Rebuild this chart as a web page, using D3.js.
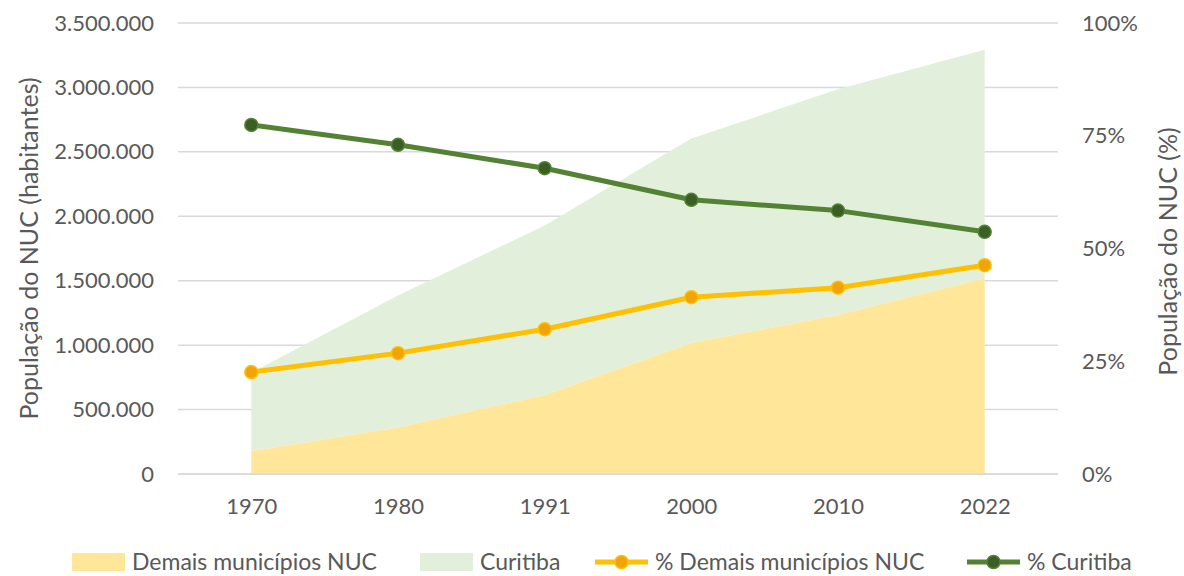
<!DOCTYPE html>
<html>
<head>
<meta charset="utf-8">
<script src="https://cdn.jsdelivr.net/npm/d3@7"></script>
<style>
  body { margin: 0; background: #fff; }
  text { font-family: Lato, "Open Sans", sans-serif; fill: #595959; }
</style>
</head>
<body>
<svg id="chart"></svg>
<script>
// data
var years = ["1970", "1980", "1991", "2000", "2010", "2022"]
var demais = [178000, 360000, 613000, 1017000, 1234000, 1520000]
var curitiba = [609000, 1025000, 1315000, 1587000, 1751000, 1773000]
var pctDemais = [0.226, 0.268, 0.321, 0.392, 0.413, 0.463]
var pctCuritiba = [0.774, 0.730, 0.678, 0.608, 0.584, 0.537]
var leftTicks = [0, 500000, 1000000, 1500000, 2000000, 2500000, 3000000, 3500000]
var rightTicks = [0, 0.25, 0.5, 0.75, 1]

var W = 1184, H = 576
var margin = {top: 23, right: 126, bottom: 102, left: 178}
var width = W - margin.left - margin.right
var height = H - margin.top - margin.bottom

var svg = d3.select("#chart")
    .attr("width", W)
    .attr("height", H)

var g = svg.append("g")
    .attr("transform", "translate(" + margin.left + "," + margin.top + ")")

var x = d3.scalePoint()
    .domain(years)
    .range([0, width])
    .padding(0.5)

var y = d3.scaleLinear()
    .domain([0, 3500000])
    .range([height, 0])

var y2 = d3.scaleLinear()
    .domain([0, 1])
    .range([height, 0])

var fmt = function (v) {
    return d3.format(",")(v).replace(/,/g, ".")
}

// gridlines
g.append("g")
    .selectAll("line")
    .data(leftTicks)
    .enter()
    .append("line")
    .attr("x1", 0)
    .attr("x2", width)
    .attr("y1", d => y(d))
    .attr("y2", d => y(d))
    .attr("stroke", "#d9d9d9")
    .attr("stroke-width", 1.5)

// stacked areas
var rows = years.map((yr, i) => ({year: yr, demais: demais[i], curitiba: curitiba[i]}))
var stack = d3.stack().keys(["demais", "curitiba"])
var series = stack(rows)
var areaColors = {demais: "#ffe699", curitiba: "#e2efda"}

var area = d3.area()
    .x(d => x(d.data.year))
    .y0(d => y(d[0]))
    .y1(d => y(d[1]))

g.append("g")
    .selectAll("path")
    .data(series.slice().reverse())
    .enter()
    .append("path")
    .attr("d", area)
    .attr("fill", d => areaColors[d.key])

// bottom axis line
g.append("line")
    .attr("x1", 0)
    .attr("x2", width)
    .attr("y1", height)
    .attr("y2", height)
    .attr("stroke", "#d9d9d9")
    .attr("stroke-width", 1.5)

// left axis
var yAxis = g.append("g")
    .call(d3.axisLeft(y).tickValues(leftTicks).tickFormat(fmt).tickSize(0).tickPadding(24))
yAxis.select(".domain").remove()
yAxis.selectAll("text")
    .attr("font-size", 22)
    .attr("fill", "#595959")
    .style("font-family", "Lato, sans-serif")

// right axis
var y2Axis = g.append("g")
    .attr("transform", "translate(" + width + ",0)")
    .call(d3.axisRight(y2).tickValues(rightTicks).tickFormat(d3.format(".0%")).tickSize(0).tickPadding(24))
y2Axis.select(".domain").remove()
y2Axis.selectAll("text")
    .attr("font-size", 22)
    .attr("fill", "#595959")
    .style("font-family", "Lato, sans-serif")

// x axis
var xAxis = g.append("g")
    .attr("transform", "translate(0," + height + ")")
    .call(d3.axisBottom(x).tickSize(0).tickPadding(24))
xAxis.select(".domain").remove()
xAxis.selectAll("text")
    .attr("font-size", 22)
    .attr("fill", "#595959")
    .style("font-family", "Lato, sans-serif")

// percentage lines
var lines = [
    {key: "pctDemais", values: pctDemais, stroke: "#ffc000", marker: "#f0a30a"},
    {key: "pctCuritiba", values: pctCuritiba, stroke: "#548235", marker: "#3a5e24"}
]

var line = d3.line()
    .x((d, i) => x(years[i]))
    .y(d => y2(d))

lines.forEach(function (s) {
    g.append("path")
        .attr("d", line(s.values))
        .attr("fill", "none")
        .attr("stroke", s.stroke)
        .attr("stroke-width", 5)
        .attr("stroke-linejoin", "round")

    g.append("g")
        .selectAll("circle")
        .data(s.values)
        .enter()
        .append("circle")
        .attr("cx", (d, i) => x(years[i]))
        .attr("cy", d => y2(d))
        .attr("r", 6.5)
        .attr("fill", s.marker)
        .attr("stroke", s.stroke)
        .attr("stroke-width", 1.5)
})

// axis titles
svg.append("text")
    .attr("transform", "translate(38," + (margin.top + height / 2) + ") rotate(-90)")
    .attr("text-anchor", "middle")
    .attr("font-size", 25)
    .text("População do NUC (habitantes)")

svg.append("text")
    .attr("transform", "translate(1177," + (margin.top + height / 2 + 3) + ") rotate(-90)")
    .attr("text-anchor", "middle")
    .attr("font-size", 25)
    .text("População do NUC (%)")

// legend
var legendItems = [
    {label: "Demais municípios NUC", type: "area", color: "#ffe699", x: 72},
    {label: "Curitiba", type: "area", color: "#e2efda", x: 420},
    {label: "% Demais municípios NUC", type: "line", color: "#ffc000", marker: "#f0a30a", x: 595},
    {label: "% Curitiba", type: "line", color: "#548235", marker: "#3a5e24", x: 967}
]

var legend = svg.append("g").attr("transform", "translate(0,562)")

legendItems.forEach(function (it) {
    if (it.type === "area") {
        legend.append("rect")
            .attr("x", it.x)
            .attr("y", -9)
            .attr("width", 53)
            .attr("height", 18)
            .attr("fill", it.color)
    } else {
        legend.append("line")
            .attr("x1", it.x)
            .attr("x2", it.x + 53)
            .attr("y1", 0)
            .attr("y2", 0)
            .attr("stroke", it.color)
            .attr("stroke-width", 5)
        legend.append("circle")
            .attr("cx", it.x + 26.5)
            .attr("cy", 0)
            .attr("r", 6.5)
            .attr("fill", it.marker)
            .attr("stroke", it.color)
            .attr("stroke-width", 1.5)
    }
    legend.append("text")
        .attr("x", it.x + 60)
        .attr("y", 0)
        .attr("dy", "0.35em")
        .attr("font-size", 23)
        .text(it.label)
})
</script>
</body>
</html>
